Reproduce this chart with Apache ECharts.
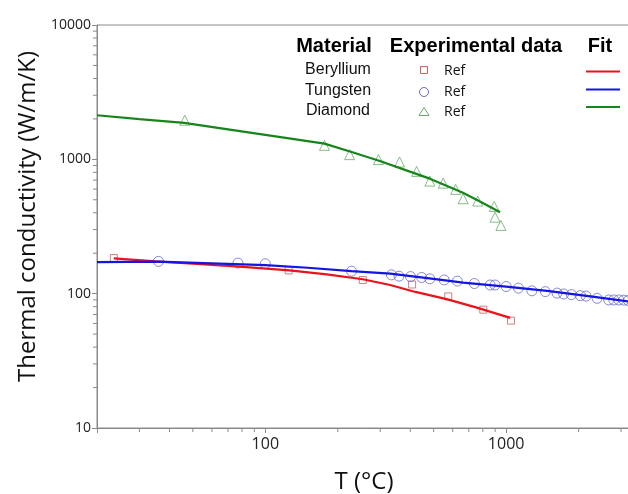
<!DOCTYPE html>
<html>
<head>
<meta charset="utf-8">
<script src="https://cdn.jsdelivr.net/npm/echarts@6/dist/echarts.min.js"></script>
<style>
  html, body { margin: 0; padding: 0; background: #fff; }
  #chart { width: 628px; height: 494px; }
</style>
</head>
<body>
<div id="chart"></div>
<script>
// Experimental points, [T (°C), k (W/m/K)]
const berylliumRef = [[23.5, 184], [125, 149], [254, 126.5], [407, 117], [575, 95.4], [804, 76], [1047, 63]];
const tungstenRef = [
  [36, 174], [77, 169], [100, 167], [228, 147], [334, 138], [359, 135], [401, 134], [446, 132],
  [482, 129], [553, 126.5], [627, 124], [738, 119], [858, 116], [899, 116], [1000, 113],
  [1125, 110], [1279, 105], [1455, 103.5], [1627, 101], [1733, 99.5], [1866, 98.4], [2033, 96.7],
  [2147, 96], [2387, 92.3], [2667, 89.8], [2800, 89.8], [2938, 89.8], [3083, 89.5], [3220, 89]
];
const diamondRef = [
  [46.3, 1954], [176, 1271], [224, 1084], [295, 995], [361, 955], [425, 813], [482, 689],
  [548, 665], [617, 597], [663, 509], [762, 489], [892, 446], [899, 371], [951, 322]
];

// Fitted curves
const berylliumFit = [[23.5, 183], [35, 174], [50, 167], [78, 159], [126, 149], [180, 139], [254, 128], [330, 116], [420, 103], [566, 91], [750, 79], [1040, 66]];
const tungstenFit = [[20, 172], [36, 173], [60, 168], [100, 163], [150, 156], [228, 147], [330, 141], [480, 130], [663, 121], [1000, 113], [1480, 105], [2200, 96], [3300, 87]];
const diamondFit = [[20, 2128], [30, 1995], [46, 1867], [100, 1521], [176, 1309], [230, 1128], [299, 971], [380, 835], [482, 718], [662, 564], [800, 473], [944, 404]];

const materials = ["Beryllium", "Tungsten", "Diamond"];
const fitColors = ["#e8141c", "#1414e6", "#16861a"];
const refColors = ["#c86060", "#6a6ac8", "#6aac6a"];

const xMin = 20, xMax = 3300, yMin = 10, yMax = 10000;
const xMinorTicks = [30, 40, 50, 60, 70, 80, 90, 200, 300, 400, 500, 600, 700, 800, 900, 2000, 3000];
const yMinorTicks = [20, 30, 40, 50, 60, 70, 80, 90, 200, 300, 400, 500, 600, 700, 800, 900, 2000, 3000, 4000, 5000, 6000, 7000, 8000, 9000];

const isDecade = v => Math.abs(Math.log10(v) - Math.round(Math.log10(v))) < 1e-6;
const axisGray = "#8a8a8a";

// short outward tick marks, positioned through the axes' own log scales
function minorTicks(name, values, vertical) {
  return {
    name: name,
    type: "custom",
    clip: false,
    silent: true,
    z: 1,
    data: values.map(v => vertical ? [xMin, v] : [v, yMin]),
    renderItem: (params, api) => {
      const p = api.coord([api.value(0), api.value(1)]);
      const shape = vertical
        ? { x1: p[0] - 4, y1: p[1], x2: p[0], y2: p[1] }
        : { x1: p[0], y1: p[1], x2: p[0], y2: p[1] + 4 };
      return { type: "line", shape: shape, style: { stroke: axisGray, lineWidth: 1 } };
    },
  };
}

function refSeries(i, data, symbol, size) {
  return {
    name: materials[i] + " Ref",
    type: "scatter",
    symbol: symbol,
    symbolSize: size,
    z: 2,
    itemStyle: { color: "rgba(0,0,0,0)", borderColor: refColors[i], borderWidth: 1 },
    data: data,
  };
}

function fitSeries(i, data) {
  return {
    name: materials[i] + " Fit",
    type: "line",
    showSymbol: false,
    z: 3,
    lineStyle: { color: fitColors[i], width: 2.2 },
    data: data,
  };
}

const legendX = { name: 338, marker: 424, ref: 444, fit0: 586, fit1: 620 };
const legendRowY = [70, 91, 111];
const fitLineY = [71.5, 89.5, 107];
const headerFont = "bold 20px 'Liberation Sans', Arial, sans-serif";
const rowFont = "16px 'Liberation Sans', Arial, sans-serif";
const refFont = "14px 'Open Sans', sans-serif";

const graphic = [
  { type: "text", x: 334, y: 46, style: { text: "Material", font: headerFont, fill: "#000", align: "center", verticalAlign: "middle" } },
  { type: "text", x: 476, y: 46, style: { text: "Experimental data", font: headerFont, fill: "#000", align: "center", verticalAlign: "middle" } },
  { type: "text", x: 600, y: 46, style: { text: "Fit", font: headerFont, fill: "#000", align: "center", verticalAlign: "middle" } },
];
materials.forEach((m, i) => {
  const y = legendRowY[i];
  graphic.push({ type: "text", x: legendX.name, y: y, style: { text: m, font: rowFont, fill: "#111", align: "center", verticalAlign: "middle" } });
  graphic.push({ type: "text", x: legendX.ref, y: y + 1.5, style: { text: "Ref", font: refFont, fill: "#111", align: "left", verticalAlign: "middle" } });
  graphic.push({ type: "line", shape: { x1: legendX.fit0, y1: fitLineY[i], x2: legendX.fit1, y2: fitLineY[i] }, style: { stroke: fitColors[i], lineWidth: 2 } });
});
const mx = legendX.marker;
graphic.push({ type: "rect", shape: { x: mx - 3.5, y: legendRowY[0] - 3.5, width: 7, height: 7 }, style: { fill: "none", stroke: refColors[0], lineWidth: 1 } });
graphic.push({ type: "circle", shape: { cx: mx, cy: legendRowY[1] + 1, r: 4.5 }, style: { fill: "none", stroke: refColors[1], lineWidth: 1 } });
graphic.push({ type: "polygon", shape: { points: [[mx, legendRowY[2] - 3.5], [mx + 5, legendRowY[2] + 4.5], [mx - 5, legendRowY[2] + 4.5]] }, style: { fill: "none", stroke: refColors[2], lineWidth: 1 } });

const option = {
  animation: false,
  backgroundColor: "#fff",
  // the plot box runs just past the right edge of the picture, as in the source figure
  grid: { left: 97, right: -3, top: 25, bottom: 66, outerBoundsMode: "none", show: true, borderColor: axisGray, borderWidth: 1 },
  xAxis: {
    type: "log",
    logBase: 10,
    min: xMin,
    max: xMax,
    name: "T (°C)",
    nameLocation: "middle",
    nameGap: 42,
    nameTextStyle: { fontFamily: "Open Sans", fontSize: 24, color: "#111" },
    axisLine: { lineStyle: { color: axisGray } },
    axisTick: { show: true, inside: false, length: 5, lineStyle: { color: axisGray } },
    splitLine: { show: false },
    axisLabel: {
      margin: 8,
      fontFamily: "Open Sans",
      fontSize: 16,
      color: "#222",
      formatter: v => (isDecade(v) ? String(Math.round(v)) : ""),
    },
  },
  yAxis: {
    type: "log",
    logBase: 10,
    min: yMin,
    max: yMax,
    name: "Thermal conductivity (W/m/K)",
    nameLocation: "middle",
    nameRotate: 90,
    nameGap: 56,
    nameTextStyle: { fontFamily: "Open Sans", fontSize: 24, color: "#111", padding: [0, 0, 0, 20] },
    axisLine: { lineStyle: { color: axisGray } },
    axisTick: { show: true, inside: false, length: 5, lineStyle: { color: axisGray } },
    splitLine: { show: false },
    axisLabel: {
      margin: 6,
      fontFamily: "Open Sans",
      fontSize: 14,
      color: "#222",
      formatter: v => (isDecade(v) ? String(Math.round(v)) : ""),
    },
  },
  graphic: graphic,
  series: [
    minorTicks("x minor", xMinorTicks, false),
    minorTicks("y minor", yMinorTicks, true),
    refSeries(0, berylliumRef, "rect", 7),
    refSeries(1, tungstenRef, "circle", 10),
    refSeries(2, diamondRef, "triangle", 10),
    fitSeries(0, berylliumFit),
    fitSeries(1, tungstenFit),
    fitSeries(2, diamondFit),
  ],
};

const chart = echarts.init(document.getElementById("chart"));
chart.setOption(option);
window.addEventListener("resize", () => chart.resize());
</script>
</body>
</html>
